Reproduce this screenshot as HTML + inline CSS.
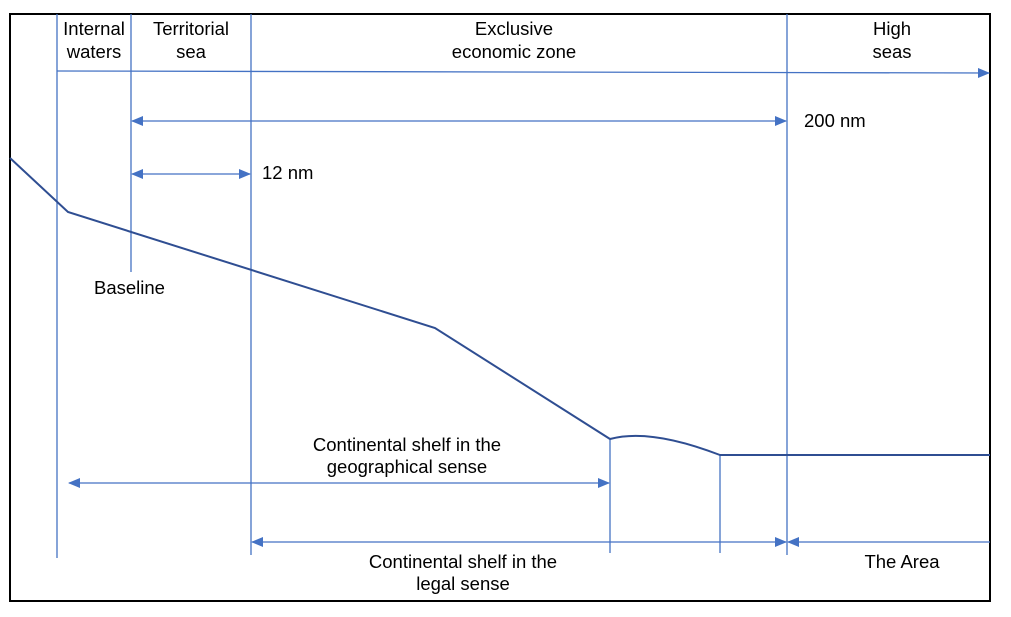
<!DOCTYPE html><html><head><style>body{margin:0;background:#fff}svg{display:block}text{font-family:"Liberation Sans",Arial,sans-serif;font-size:18.5px;fill:#000}</style></head><body>
<svg width="1011" height="617" viewBox="0 0 1011 617">
<defs><marker id="a" markerWidth="12" markerHeight="10" refX="11" refY="5" orient="auto-start-reverse" markerUnits="userSpaceOnUse"><path d="M0,0L12,5L0,10z" fill="#4472C4"/></marker></defs>
<rect x="10" y="14" width="980" height="587" fill="none" stroke="#000" stroke-width="2"/>
<g stroke="#4472C4" stroke-width="1.3" fill="none">
<line x1="57" y1="14" x2="57" y2="558"/>
<line x1="131" y1="14" x2="131" y2="272"/>
<line x1="251" y1="14" x2="251" y2="555"/>
<line x1="787" y1="14" x2="787" y2="555"/>
<line x1="610" y1="440" x2="610" y2="553"/>
<line x1="720" y1="455" x2="720" y2="553"/>
<line x1="57" y1="71" x2="989" y2="73" marker-end="url(#a)"/>
<line x1="132" y1="121" x2="786" y2="121" marker-start="url(#a)" marker-end="url(#a)"/>
<line x1="132" y1="174" x2="250" y2="174" marker-start="url(#a)" marker-end="url(#a)"/>
<line x1="69" y1="483" x2="609" y2="483" marker-start="url(#a)" marker-end="url(#a)"/>
<line x1="252" y1="542" x2="786" y2="542" marker-start="url(#a)" marker-end="url(#a)"/>
<line x1="788" y1="542" x2="990" y2="542" marker-start="url(#a)"/>
</g>
<path d="M10,158L68,212L435,328L610,439Q650,428 720,455L990,455" fill="none" stroke="#2F4E92" stroke-width="2"/>
<text x="94" y="35" text-anchor="middle">Internal</text><text x="94" y="58" text-anchor="middle">waters</text>
<text x="191" y="35" text-anchor="middle">Territorial</text><text x="191" y="58" text-anchor="middle">sea</text>
<text x="514" y="35" text-anchor="middle">Exclusive</text><text x="514" y="58" text-anchor="middle">economic zone</text>
<text x="892" y="35" text-anchor="middle">High</text><text x="892" y="58" text-anchor="middle">seas</text>
<text x="804" y="127">200 nm</text><text x="262" y="179">12 nm</text>
<text x="94" y="294">Baseline</text>
<text x="407" y="451" text-anchor="middle">Continental shelf in the</text><text x="407" y="473" text-anchor="middle">geographical sense</text>
<text x="463" y="568" text-anchor="middle">Continental shelf in the</text><text x="463" y="590" text-anchor="middle">legal sense</text>
<text x="902" y="568" text-anchor="middle">The Area</text>
</svg></body></html>
